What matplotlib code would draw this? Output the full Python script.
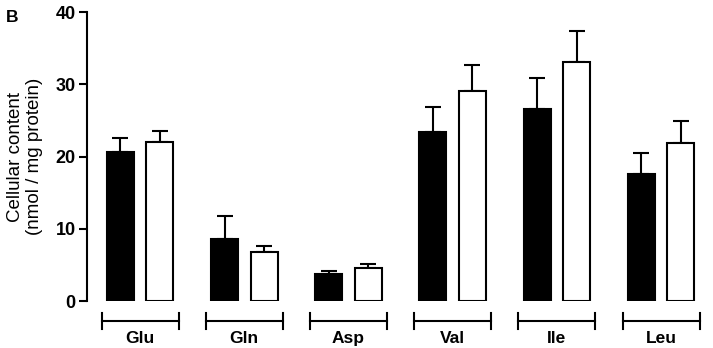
import numpy as np
import matplotlib.pyplot as plt

plt.rcParams['font.family'] = ['Liberation Sans', 'DejaVu Sans']

# Amino acid content, two conditions (black / white bars)
amino = ['Glu', 'Gln', 'Asp', 'Val', 'Ile', 'Leu']
black_mean = [20.6, 8.6, 3.7, 23.4, 26.6, 17.6]
black_sem = [2.0, 3.2, 0.4, 3.5, 4.3, 2.9]
white_mean = [22.0, 6.8, 4.6, 29.1, 33.1, 21.9]
white_sem = [1.5, 0.8, 0.5, 3.6, 4.3, 3.0]

x = np.arange(len(amino))
off = 0.19
w = 0.26

fig = plt.figure(figsize=(7.13, 3.48), dpi=100)
ax = fig.add_axes([0.122, 0.135, 0.868, 0.83])

ax.bar(x - off, black_mean, w, color='black', edgecolor='black', linewidth=1.5, zorder=2)
ax.bar(x + off, white_mean, w, color='white', edgecolor='black', linewidth=1.5, zorder=2)
ax.errorbar(x - off, black_mean, yerr=[np.zeros(len(x)), black_sem], fmt='none',
            ecolor='black', elinewidth=1.5, capsize=6, capthick=1.5, zorder=1)
ax.errorbar(x + off, white_mean, yerr=[np.zeros(len(x)), white_sem], fmt='none',
            ecolor='black', elinewidth=1.5, capsize=6, capthick=1.5, zorder=1)

ax.set_xlim(-0.51, 5.43)
ax.set_ylim(0, 40)
ax.set_yticks([0, 10, 20, 30, 40])
ax.set_xticks([])
for s in ['top', 'right', 'bottom']:
    ax.spines[s].set_visible(False)
ax.spines['left'].set_linewidth(1.5)
ax.tick_params(axis='y', direction='out', length=6, width=1.5, labelsize=13, pad=2)
for t in ax.get_yticklabels():
    t.set_fontweight('bold')

ax.set_ylabel('Cellular content\n(nmol / mg protein)', fontsize=13.5, labelpad=9,
              linespacing=1.2)

# group brackets under each pair
for i, name in enumerate(amino):
    ax.plot([i - 0.37, i + 0.37], [-2.8, -2.8], color='black', lw=1.5, clip_on=False)
    ax.plot([i - 0.37, i - 0.37], [-1.7, -3.9], color='black', lw=1.5, clip_on=False)
    ax.plot([i + 0.37, i + 0.37], [-1.7, -3.9], color='black', lw=1.5, clip_on=False)
    ax.text(i, -5.2, name, ha='center', va='center', fontsize=12.5, fontweight='bold')

fig.text(0.008, 0.95, 'B', fontsize=12.5, fontweight='bold', ha='left', va='center')

fig.savefig('out.png', dpi=100)
